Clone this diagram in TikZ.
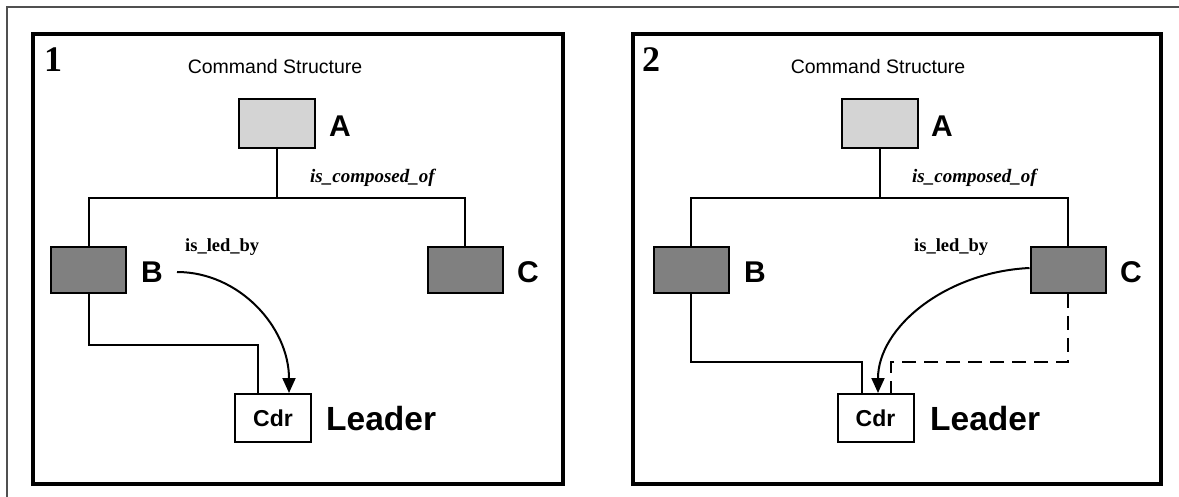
\documentclass[tikz,border=0pt]{standalone}
\usepackage{fontspec}
\setmainfont{Liberation Serif}
\setsansfont{Liberation Sans}
\usetikzlibrary{arrows.meta}
\definecolor{lightbox}{RGB}{212,212,212}
\definecolor{darkbox}{RGB}{128,128,128}
\definecolor{framegray}{RGB}{80,80,80}
\tikzset{
  panel/.style={draw=black, line width=4pt},
  conn/.style={draw=black, line width=2pt},
  dashconn/.style={draw=black, line width=2pt, dash pattern=on 14pt off 8pt},
  ledarrow/.style={draw=black, line width=2pt, -{Triangle[length=15pt,width=13pt]}},
  boxA/.style={draw=black, line width=2pt, fill=lightbox, inner sep=0pt, minimum width=76pt, minimum height=49pt},
  boxBC/.style={draw=black, line width=2pt, fill=darkbox, inner sep=0pt, minimum width=75pt, minimum height=46pt},
  boxCdr/.style={draw=black, line width=2pt, fill=white, inner sep=0pt, minimum width=76pt, minimum height=48pt,
    font=\sffamily\bfseries\fontsize{23}{23}\selectfont},
  numlbl/.style={anchor=base west, inner sep=0pt, font=\rmfamily\bfseries\fontsize{36}{36}\selectfont},
  titlelbl/.style={anchor=base, inner sep=0pt, font=\sffamily\fontsize{19.5}{19.5}\selectfont},
  letterlbl/.style={anchor=base west, inner sep=0pt, font=\sffamily\bfseries\fontsize{30}{30}\selectfont},
  leaderlbl/.style={anchor=base west, inner sep=0pt, font=\sffamily\bfseries\fontsize{33.5}{33.5}\selectfont},
  complbl/.style={anchor=base west, inner sep=0pt, font=\rmfamily\bfseries\itshape\fontsize{19}{19}\selectfont},
  ledlbl/.style={anchor=base west, inner sep=0pt, font=\rmfamily\bfseries\fontsize{18.5}{18.5}\selectfont},
}
\begin{document}
\begin{tikzpicture}[x=1pt,y=-1pt]
\useasboundingbox (0,0) rectangle (1179,497);
% outer frame
\draw[framegray, line width=1.5pt] (7,497) -- (7,7) -- (1179,7);
% ---------------- Panel 1 ----------------
\draw[panel] (33,34) rectangle (563,484);
\node[numlbl] (n1) at (44,72) {1};
\node[titlelbl] (t1) at (275,74) {Command Structure};
\node[boxA] (A1) at (277,123.5) {};
\node[letterlbl] (la1) at (329,137) {A};
\node[complbl] (co1) at (310,183) {is\_composed\_of};
\coordinate (J1) at (277,198);
\node[boxBC] (B1) at (88.5,270) {};
\node[boxBC] (C1) at (465,270) {};
\node[letterlbl] (lb1) at (141,283) {B};
\node[letterlbl] (lc1) at (517,283) {C};
\node[ledlbl] (led1) at (185,252) {is\_led\_by};
\node[boxCdr] (D1) at (273,418) {Cdr};
\node[leaderlbl] (ld1) at (326,430) {Leader};
\draw[conn] (A1.south) -- (J1);
\draw[conn] (B1.north) |- (J1) -| (C1.north);
\coordinate (K1) at (258,345);
\draw[conn] (B1.south) |- (K1) -- (K1 |- D1.north);
\coordinate (S1) at (177,272);
\coordinate (T1) at ([xshift=16pt]D1.north);
\draw[ledarrow] (S1) .. controls (239,272) and (289,327) .. (T1);
% ---------------- Panel 2 ----------------
\draw[panel] (633,34) rectangle (1161,484);
\node[numlbl] (n2) at (642,72) {2};
\node[titlelbl] (t2) at (878,74) {Command Structure};
\node[boxA] (A2) at (880,123.5) {};
\node[letterlbl] (la2) at (931,137) {A};
\node[complbl] (co2) at (912,183) {is\_composed\_of};
\coordinate (J2) at (880,198);
\node[boxBC] (B2) at (691,270) {};
\node[boxBC] (C2) at (1068,270) {};
\node[letterlbl] (lb2) at (744,283) {B};
\node[letterlbl] (lc2) at (1120,283) {C};
\node[ledlbl] (led2) at (914,252) {is\_led\_by};
\node[boxCdr] (D2) at (875.5,418) {Cdr};
\node[leaderlbl] (ld2) at (930,430) {Leader};
\draw[conn] (A2.south) -- (J2);
\draw[conn] (B2.north) |- (J2) -| (C2.north);
\coordinate (K2) at (862,362);
\draw[conn] (B2.south) |- (K2) -- (K2 |- D2.north);
\coordinate (L2) at (891,362);
\draw[dashconn] (C2.south) |- (L2) -- (L2 |- D2.north);
\coordinate (T2) at ([xshift=2.5pt]D2.north);
\draw[ledarrow] ([yshift=2pt]C2.west) .. controls (946,272) and (878,327) .. (T2);
\end{tikzpicture}
\end{document}
